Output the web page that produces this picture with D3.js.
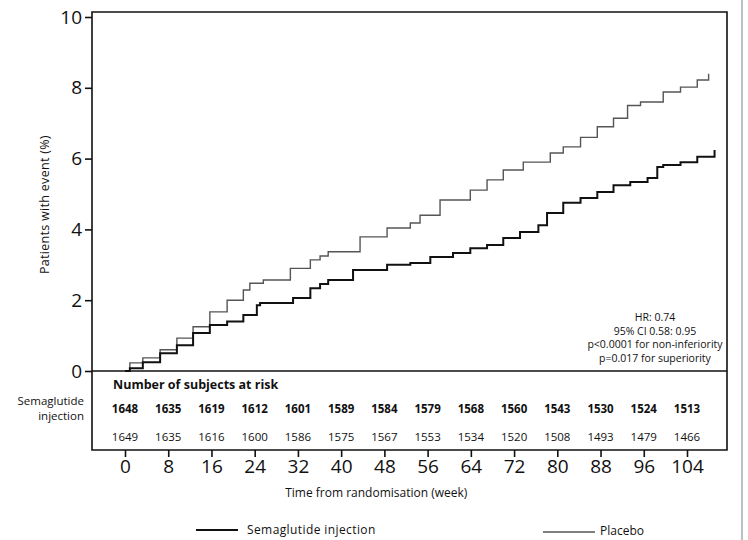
<!DOCTYPE html>
<html>
<head>
<meta charset="utf-8">
<script src="https://cdn.jsdelivr.net/npm/d3@7"></script>
<style>
  body { margin: 0; background: #fff; }
  text { font-family: "Open Sans", "Noto Sans", sans-serif; fill: #111; }
</style>
</head>
<body>
<div id="chart"></div>
<script>
// cumulative incidence (week, %)
const semaWeeks = [0, 0.9, 3.3, 6.5, 9.6, 12.6, 15.7, 18.9, 21.9, 24.4, 25.0, 29.3, 31.1, 34.3, 36.1, 37.6, 42.2, 48.5, 52.8, 56.5, 60.7, 63.9, 67.0, 70.0, 73.1, 76.5, 78.1, 81.1, 84.3, 87.4, 90.4, 93.5, 96.7, 98.5, 99.6, 102.8, 105.9, 109.1];
const semaPct = [0, 0.08, 0.25, 0.5, 0.73, 1.07, 1.3, 1.4, 1.58, 1.86, 1.92, 1.92, 2.06, 2.34, 2.46, 2.57, 2.85, 3.0, 3.05, 3.22, 3.33, 3.47, 3.56, 3.76, 3.93, 4.12, 4.46, 4.75, 4.89, 5.06, 5.25, 5.34, 5.45, 5.76, 5.82, 5.9, 6.05, 6.24];

const placeboWeeks = [0, 0.9, 3.3, 6.5, 9.6, 12.6, 15.7, 18.9, 21.9, 23.1, 25.6, 29.3, 30.6, 34.3, 36.1, 37.6, 43.5, 48.5, 52.8, 54.6, 58.3, 63.9, 67.0, 70.0, 73.7, 77.8, 78.7, 81.1, 84.3, 87.4, 90.4, 93.0, 95.4, 99.6, 102.8, 105.9, 108.0];
const placeboPct = [0, 0.23, 0.37, 0.6, 0.93, 1.25, 1.67, 2.0, 2.29, 2.48, 2.57, 2.57, 2.9, 3.14, 3.25, 3.37, 3.79, 4.04, 4.18, 4.4, 4.83, 5.11, 5.4, 5.68, 5.9, 5.9, 6.16, 6.33, 6.6, 6.9, 7.14, 7.5, 7.6, 7.88, 8.02, 8.22, 8.4];

const xTicks = [0, 8, 16, 24, 32, 40, 48, 56, 64, 72, 80, 88, 96, 104];
const yTicks = [0, 2, 4, 6, 8, 10];
const semaAtRisk = [1648, 1635, 1619, 1612, 1601, 1589, 1584, 1579, 1568, 1560, 1543, 1530, 1524, 1513];
const placeboAtRisk = [1649, 1635, 1616, 1600, 1586, 1575, 1567, 1553, 1534, 1520, 1508, 1493, 1479, 1466];
const statLines = ["HR: 0.74", "95% CI 0.58: 0.95", "p<0.0001 for non-inferiority", "p=0.017 for superiority"];

const width = 748, height = 540;
const boxLeft = 92, boxRight = 727, boxTop = 12, tableBottom = 450;

const x = d3.scaleLinear().domain([0, 104]).range([125, 687]);
const y = d3.scaleLinear().domain([0, 10]).range([371, 17]);

const svg = d3.select('#chart')
  .append('svg')
  .attr('width', width)
  .attr('height', height);

// frame: plot + at-risk table
svg.append('path')
  .attr('d', `M${boxLeft},${boxTop}H${boxRight}V${tableBottom}H${boxLeft}Z`)
  .attr('fill', 'none')
  .attr('stroke', '#111')
  .attr('stroke-width', 1.6);

svg.append('line')
  .attr('x1', boxLeft).attr('x2', boxRight)
  .attr('y1', y(0)).attr('y2', y(0))
  .attr('stroke', '#111')
  .attr('stroke-width', 1.6);

// scan edge
svg.append('line')
  .attr('x1', 742).attr('x2', 742)
  .attr('y1', 0).attr('y2', height)
  .attr('stroke', '#aaa')
  .attr('stroke-width', 1.5);

// y axis
const yAxis = svg.append('g')
  .attr('transform', `translate(${boxLeft},0)`)
  .call(d3.axisLeft(y).tickValues(yTicks).tickSize(7).tickPadding(3));
yAxis.select('.domain').remove();
yAxis.selectAll('line').attr('stroke', '#111').attr('stroke-width', 1.6);
yAxis.selectAll('text').style('font-size', '19px').attr('fill', '#111');

svg.append('text')
  .attr('transform', `translate(49,${y(4.7)}) rotate(-90)`)
  .attr('text-anchor', 'middle')
  .style('font-size', '12.5px')
  .style('letter-spacing', '0.3px')
  .text('Patients with event (%)');

// x axis below the table
const xAxis = svg.append('g')
  .attr('transform', `translate(0,${tableBottom})`)
  .call(d3.axisBottom(x).tickValues(xTicks).tickSize(7).tickPadding(3));
xAxis.select('.domain').remove();
xAxis.selectAll('line').attr('stroke', '#111').attr('stroke-width', 1.6);
xAxis.selectAll('text').style('font-size', '19px').attr('fill', '#111');

svg.append('text')
  .attr('x', x(46.5))
  .attr('y', 497)
  .attr('text-anchor', 'middle')
  .style('font-size', '12px')
  .text('Time from randomisation (week)');

// curves
const line = d3.line()
  .x(d => x(d[0]))
  .y(d => y(d[1]))
  .curve(d3.curveStepAfter);

svg.append('path')
  .datum(d3.zip(placeboWeeks, placeboPct))
  .attr('d', line)
  .attr('fill', 'none')
  .attr('stroke', '#555')
  .attr('stroke-width', 1.4);

svg.append('path')
  .datum(d3.zip(semaWeeks, semaPct))
  .attr('d', line)
  .attr('fill', 'none')
  .attr('stroke', '#111')
  .attr('stroke-width', 2);

// stats
svg.append('g')
  .selectAll('text')
  .data(statLines)
  .enter()
  .append('text')
  .attr('x', 655)
  .attr('y', (d, i) => 321 + i * 13.5)
  .attr('text-anchor', 'middle')
  .style('font-size', '10.5px')
  .text(d => d);

// at-risk table
svg.append('text')
  .attr('x', 113)
  .attr('y', 389)
  .style('font-size', '12.5px')
  .style('font-weight', 'bold')
  .text('Number of subjects at risk');

svg.append('text')
  .attr('x', 84)
  .attr('y', 405)
  .attr('text-anchor', 'end')
  .style('font-size', '11.5px')
  .text('Semaglutide');
svg.append('text')
  .attr('x', 84)
  .attr('y', 420)
  .attr('text-anchor', 'end')
  .style('font-size', '11.5px')
  .text('injection');

svg.append('g')
  .selectAll('text')
  .data(semaAtRisk)
  .enter()
  .append('text')
  .attr('x', (d, i) => x(xTicks[i]))
  .attr('y', 413)
  .attr('text-anchor', 'middle')
  .style('font-size', '11.5px')
  .style('font-weight', 'bold')
  .text(d => d);

svg.append('g')
  .selectAll('text')
  .data(placeboAtRisk)
  .enter()
  .append('text')
  .attr('x', (d, i) => x(xTicks[i]))
  .attr('y', 441)
  .attr('text-anchor', 'middle')
  .style('font-size', '11.5px')
  .attr('fill', '#333')
  .text(d => d);

// legend
svg.append('line')
  .attr('x1', 196).attr('x2', 238)
  .attr('y1', 530).attr('y2', 530)
  .attr('stroke', '#111')
  .attr('stroke-width', 2);
svg.append('text')
  .attr('x', 247)
  .attr('y', 534)
  .style('font-size', '12px')
  .style('letter-spacing', '0.4px')
  .text('Semaglutide injection');

svg.append('line')
  .attr('x1', 543).attr('x2', 595)
  .attr('y1', 532).attr('y2', 532)
  .attr('stroke', '#555')
  .attr('stroke-width', 1.4);
svg.append('text')
  .attr('x', 600)
  .attr('y', 535)
  .style('font-size', '12px')
  .text('Placebo');
</script>
</body>
</html>
